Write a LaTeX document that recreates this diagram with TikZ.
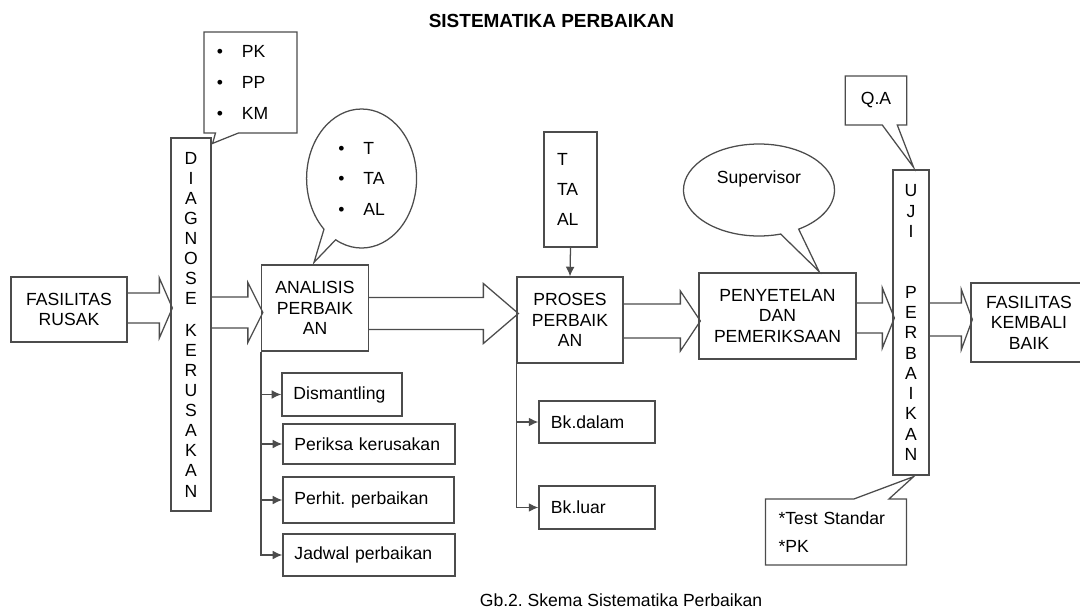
\documentclass[tikz,border=0pt]{standalone}
\usepackage{fontspec}
\setmainfont{Liberation Sans}
\usetikzlibrary{calc,shapes.callouts,arrows.meta}

\newcommand{\pu}{*0.025cm}
\newcommand{\bul}{\makebox[0.625cm][l]{\textbullet}}
% wide hollow arrow: from, to, level, half shaft, head offset
\newcommand{\blockarrow}[5]{%
  \path (0,#3) coordinate (lv)
    ($(#2.west|-lv)+(-#5,0)$) coordinate (hb)
    ($(#2.west|-lv)+(2,0)$) coordinate (tp);
  \draw[blk] ($(#1.east|-lv)+(0,-#4)$) -- ($(hb)+(0,-#4)$) -- ($(hb)+(0,-30)$)
    -- (tp) -- ($(hb)+(0,30)$) -- ($(hb)+(0,#4)$) -- ($(#1.east|-lv)+(0,#4)$);
}

\tikzset{
  stroke/.style={draw=black!70, line width=0.9pt},
  box/.style={stroke, inner sep=0pt, align=center},
  lbox/.style={stroke, inner ysep=0pt, inner xsep=0.29cm, align=left},
  blk/.style={stroke, line join=miter},
  arr/.style={stroke, -{Latex[length=2.4mm,width=2.2mm]}},
  every node/.style={font=\fontsize{12.5}{14.5}\selectfont}
}

\begin{document}
\frenchspacing
\begin{tikzpicture}[x=0.025cm, y=-0.025cm]
    \useasboundingbox (0,0) rectangle (1080,612);
    \clip (0,0) rectangle (1080,612);

    \node[font=\bfseries\fontsize{13.5}{16}\selectfont] (title) at (551.5,21) {SISTEMATIKA PERBAIKAN};

    % main line
    \node[box, minimum width=116\pu, minimum height=65\pu] (rusak) at (69,309.5) {FASILITAS\\RUSAK};
    \node[box, minimum width=40\pu, minimum height=373\pu, font=\fontsize{12.5}{14.3}\selectfont] (diag) at (191,324.5)
      {D\\I\\A\\G\\N\\O\\S\\E\\[0.28cm]K\\E\\R\\U\\S\\A\\K\\A\\N};
    \node[box, minimum width=107\pu, minimum height=86\pu] (anal) at (315,308) {ANALISIS\\PERBAIK\\AN};
    \node[box, minimum width=106\pu, minimum height=86\pu] (proses) at (570,320) {PROSES\\PERBAIK\\AN};
    \node[box, minimum width=157\pu, minimum height=86\pu] (peny) at (777.5,316) {PENYETELAN\\DAN\\PEMERIKSAAN};
    \node[box, minimum width=36\pu, minimum height=305\pu, font=\fontsize{12.5}{14.4}\selectfont] (uji) at (911,322.5)
      {U\\J\\I\\[1.02cm]P\\E\\R\\B\\A\\I\\K\\A\\N};
    \node[box, minimum width=116\pu, minimum height=79\pu] (baik) at (1029,322.5) {FASILITAS\\KEMBALI\\BAIK};

    \blockarrow{rusak}{diag}{308}{15}{11}
    \blockarrow{diag}{anal}{312.5}{15.5}{13}
    \blockarrow{anal}{proses}{313.5}{16}{33}
    \blockarrow{proses}{peny}{321}{17}{18}
    \blockarrow{peny}{uji}{318}{15}{10}
    \blockarrow{uji}{baik}{319.5}{16.5}{9}

    % callouts
    \node[rectangle callout, stroke, align=left, text width=1.675cm, inner xsep=0.325cm, minimum height=101\pu,
      font=\fontsize{12.5}{22}\selectfont, callout pointer width=0.575cm,
      callout absolute pointer={($(diag.north east)+(1,6)$)}] (pk) at (250.5,82.5) {\bul PK\\\bul PP\\\bul KM};
    \node[ellipse callout, stroke, align=left, minimum width=110\pu, minimum height=139\pu,
      font=\fontsize{12.5}{21.7}\selectfont, callout pointer width=0.55cm,
      callout absolute pointer={($(anal.north)+(-1,-2)$)}] (tal1) at (361.6,178.5) {\bul T\\\bul TA\\\bul AL};
    \node[ellipse callout, stroke, minimum width=151\pu, minimum height=92\pu, callout pointer width=0.68cm,
      callout absolute pointer={($(peny.north)+(41.5,-1)$)}] (sup) at (759,190) {\raisebox{0.65cm}{Supervisor}};
    \node[rectangle callout, stroke, minimum width=61.7\pu, minimum height=49\pu, callout pointer width=0.375cm,
      callout absolute pointer={($(uji.north)+(2.6,-2)$)}] (qa) at (876,100.5) {Q.A};
    \node[rectangle callout, stroke, align=left, text width=2.87cm, inner xsep=0.325cm, minimum height=66\pu,
      font=\fontsize{12.5}{20}\selectfont, callout pointer width=0.875cm,
      callout absolute pointer={($(uji.south)+(2.6,1)$)}] (test) at (836,532) {*Test Standar\\{*}PK};

    % tools box
    \node[box, align=left, text width=0.675cm, inner xsep=0.325cm, minimum height=115\pu,
      font=\fontsize{12.5}{21.3}\selectfont] (tal2) at (570.5,189.5) {T\\TA\\AL};
    \draw[arr] (tal2.south) -- (proses.north);

    % steps of analysis
    \node[lbox, text width=2.425cm, minimum height=43\pu] (dis) at (342,394.5) {Dismantling};
    \node[lbox, text width=3.725cm, minimum height=40\pu] (per) at (369,444) {Periksa kerusakan};
    \node[lbox, text width=3.7cm, minimum height=46\pu] (hit) at (368.5,500) {Perhit. perbaikan};
    \node[lbox, text width=3.725cm, minimum height=42\pu] (jad) at (369,555) {Jadwal perbaikan};
    \draw[arr] (anal.south west) |- (jad.west);
    \draw[arr] (anal.south west |- dis.west) -- (dis.west);
    \draw[arr] (anal.south west |- per.west) -- (per.west);
    \draw[arr] (anal.south west |- hit.west) -- (hit.west);

    % workshops
    \node[lbox, text width=2.3cm, inner xsep=0.3cm, minimum height=42\pu] (dalam) at (597,422) {Bk.dalam};
    \node[lbox, text width=2.3cm, inner xsep=0.3cm, minimum height=43\pu] (luar) at (597,507.5) {Bk.luar};
    \draw[arr] (proses.south west) |- (luar.west);
    \draw[arr] (proses.south west |- dalam.west) -- (dalam.west);

    \node (cap) at (621,600) {Gb.2. Skema Sistematika Perbaikan};
\end{tikzpicture}
\end{document}
